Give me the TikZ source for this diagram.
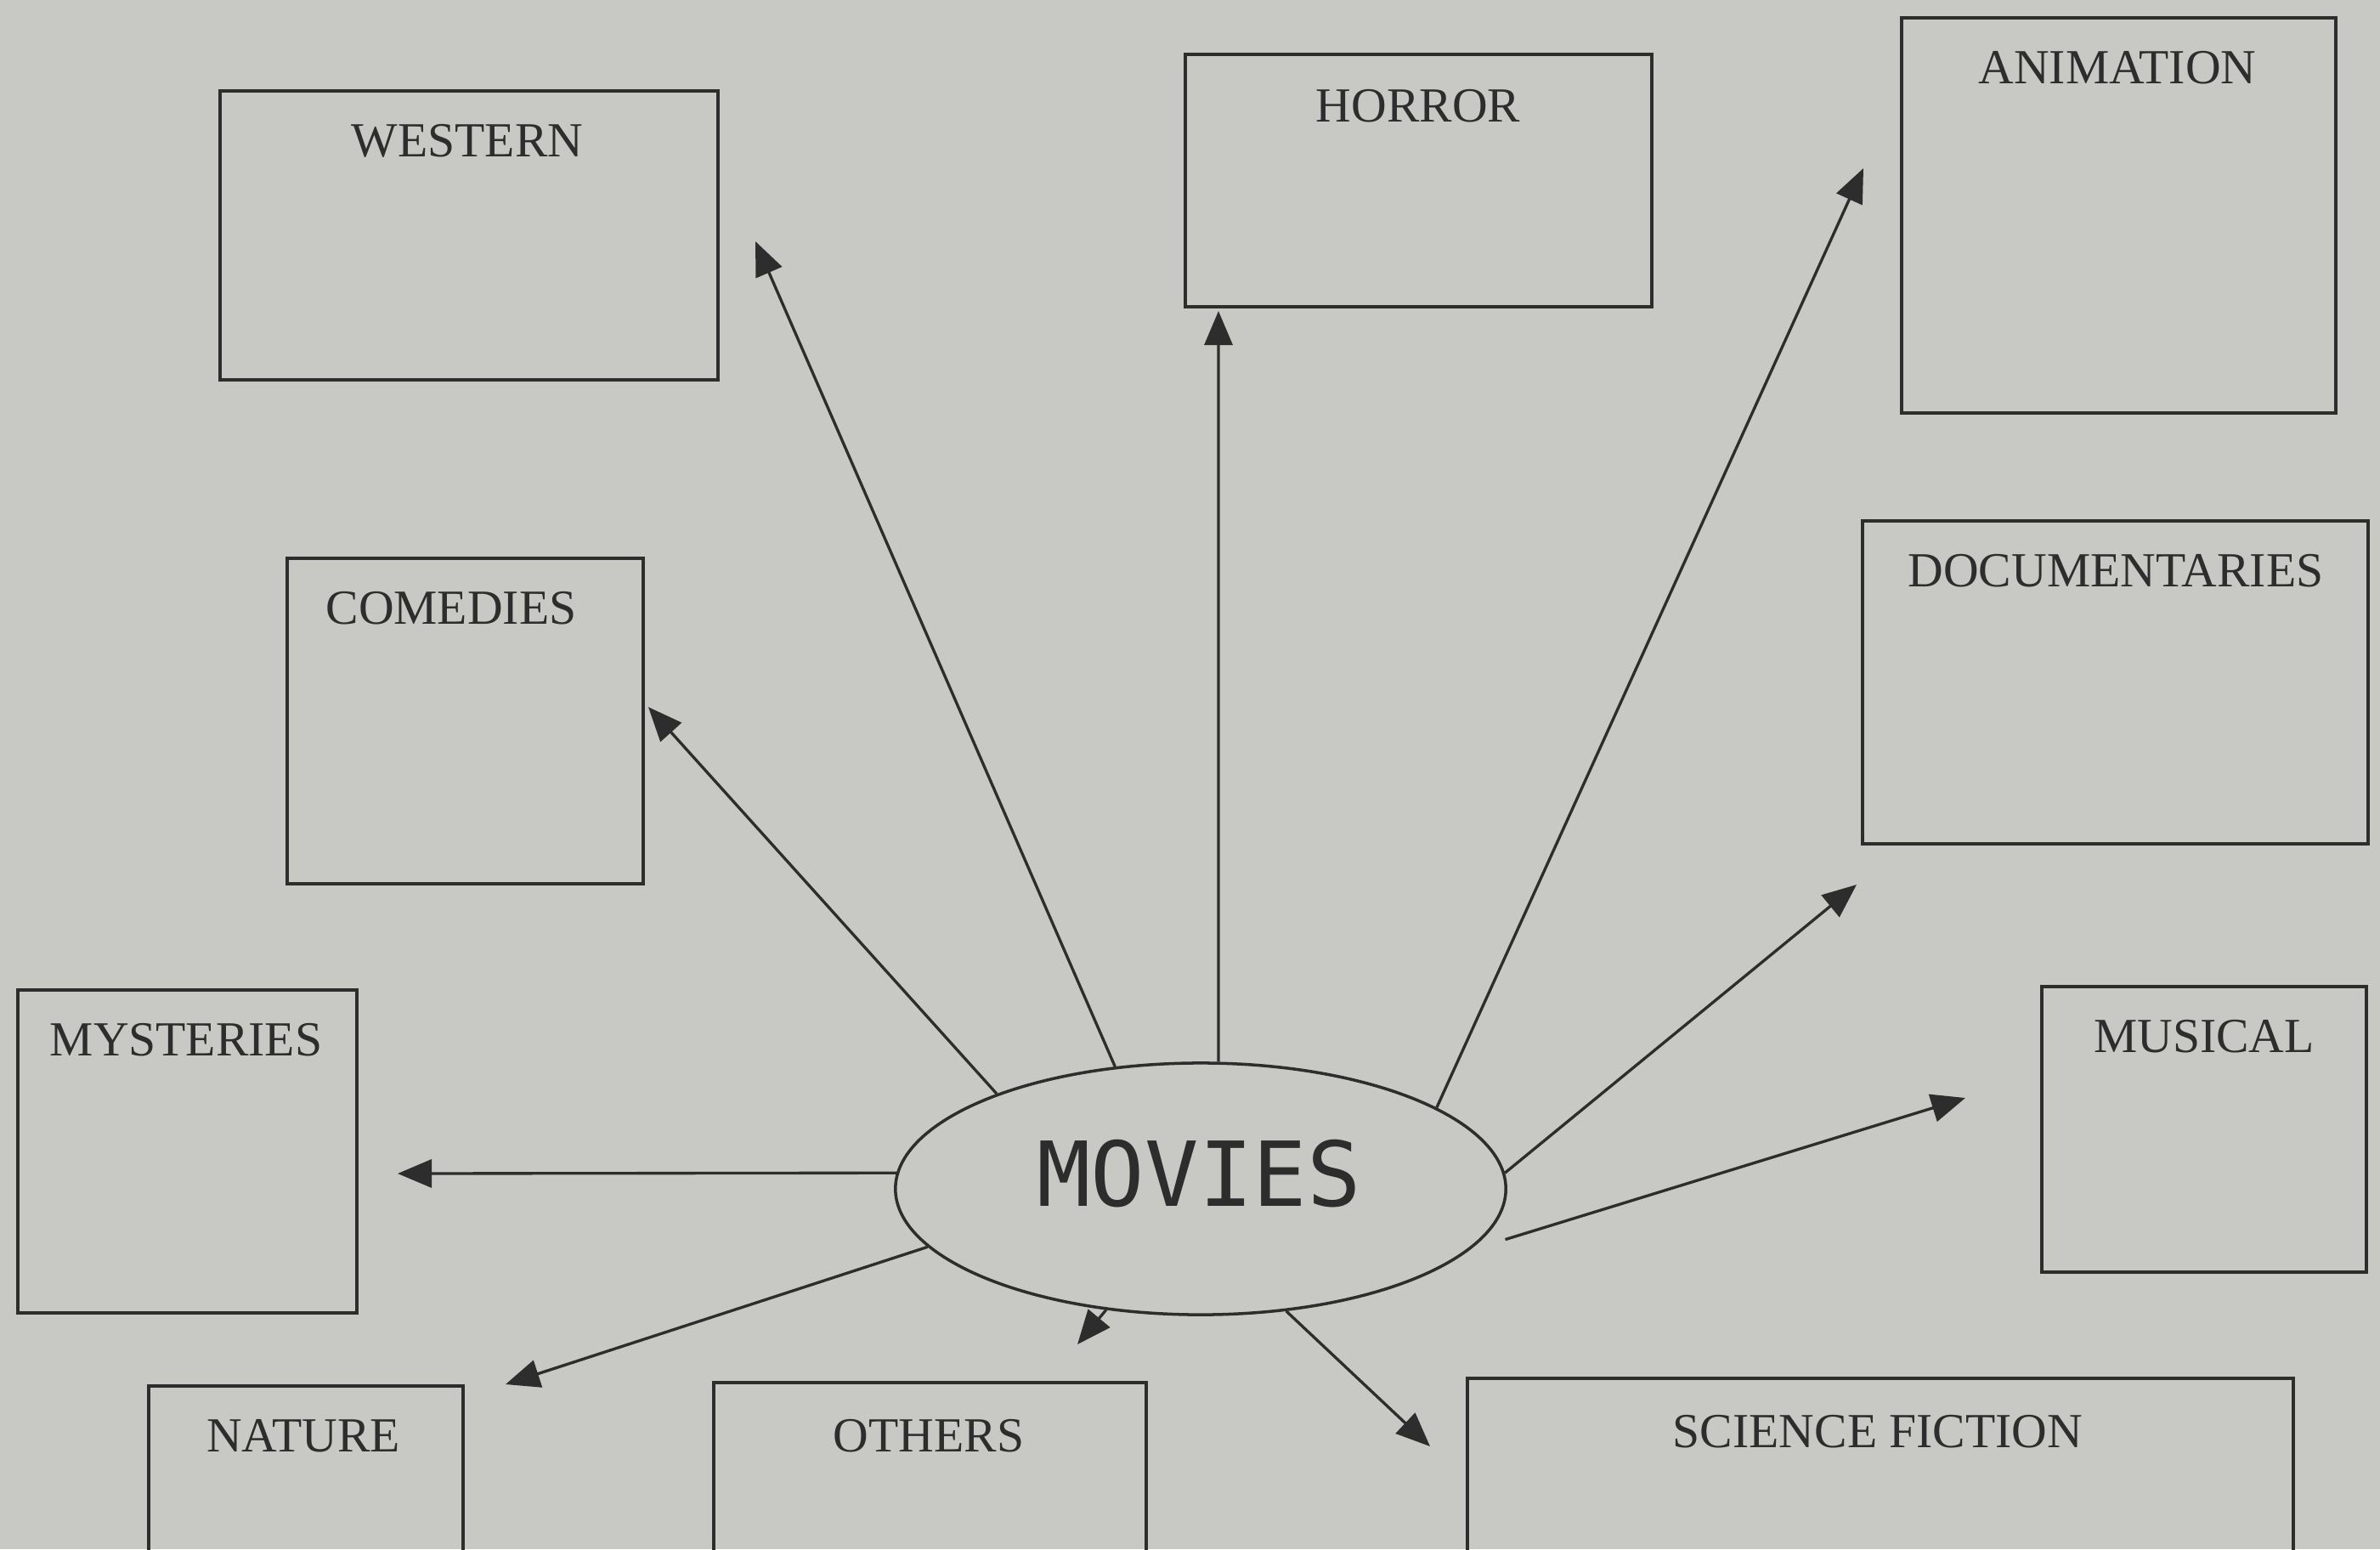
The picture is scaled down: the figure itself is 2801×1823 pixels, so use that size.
\documentclass[tikz,border=0pt]{standalone}
\usepackage{fontspec}
\setmainfont{Liberation Serif}
\newfontfamily\moviesfont{DejaVu Sans Mono}
\usetikzlibrary{arrows.meta,shapes.geometric}
\definecolor{bgc}{RGB}{200,201,197}
\definecolor{ink}{RGB}{45,45,45}
\begin{document}
\begin{tikzpicture}[x=0.01cm,y=-0.01cm,
  box/.style={draw=ink, line width=1.1pt, inner sep=0pt, outer sep=0pt, rectangle},
  lbl/.style={text=ink, inner sep=0pt, font=\fontsize{16.4}{19}\selectfont},
  hub/.style={draw=ink, line width=1pt, ellipse, inner sep=0pt, minimum width=7.18cm, minimum height=2.96cm},
  arr/.style={draw=ink, line width=0.95pt, -{Triangle[length=0.4cm,width=0.33cm]}}]
\fill[bgc] (0,0) rectangle (2801,1823);
\useasboundingbox (0,0) rectangle (2801,1823);
\clip (0,0) rectangle (2801,1823);
% boxes
\node[box, minimum width=5.86cm, minimum height=3.40cm] (western) at (552,277) {};
\node[box, minimum width=5.49cm, minimum height=2.97cm] (horror) at (1669.5,212.5) {};
\node[box, minimum width=5.11cm, minimum height=4.65cm] (animation) at (2493.5,253.5) {};
\node[box, minimum width=4.19cm, minimum height=3.83cm] (comedies) at (547.5,848.5) {};
\node[box, minimum width=5.95cm, minimum height=3.80cm] (documentaries) at (2489.5,803) {};
\node[box, minimum width=3.99cm, minimum height=3.80cm] (mysteries) at (220.5,1355) {};
\node[box, minimum width=3.82cm, minimum height=3.36cm] (musical) at (2594,1329) {};
\node[box, minimum width=3.70cm, minimum height=3.40cm] (nature) at (360,1801) {};
\node[box, minimum width=5.09cm, minimum height=3.40cm] (others) at (1094.5,1797) {};
\node[box, minimum width=9.72cm, minimum height=3.40cm] (scifi) at (2213,1792) {};
% labels
\node[lbl] (westernlbl) at (550,166) {WESTERN};
\node[lbl] (horrorlbl) at (1669,125) {HORROR};
\node[lbl] (animationlbl) at (2492,80) {ANIMATION};
\node[lbl] (comedieslbl) at (531,716) {COMEDIES};
\node[lbl] (documentarieslbl) at (2490,672) {DOCUMENTARIES};
\node[lbl] (mysterieslbl) at (219,1224) {MYSTERIES};
\node[lbl] (musicallbl) at (2594,1220) {MUSICAL};
\node[lbl] (naturelbl) at (357,1690) {NATURE};
\node[lbl] (otherslbl) at (1093,1690) {OTHERS};
\node[lbl] (scifilbl) at (2210,1685) {SCIENCE FICTION};
% hub
\node[hub] (movies) at (1413,1399) {};
\node[text=ink, inner sep=0pt, font=\moviesfont\fontsize{30}{34}\selectfont] (movieslbl) at (1411,1381) {MOVIES};
% arrow tips
\coordinate (tWestern) at (889,284);
\coordinate (tHorror) at (1434,366);
\coordinate (tAnimation) at (2193,198);
\coordinate (tComedies) at (763,832);
\coordinate (tDocumentaries) at (2185,1041);
\coordinate (tMysteries) at (468,1381);
\coordinate (tMusical) at (2313,1292);
\coordinate (tNature) at (595,1629);
\coordinate (tOthers) at (1268,1582);
\coordinate (tScifi) at (1683,1702);
% arrows
\draw[arr] (movies.125.6) -- (tWestern);
\draw[arr] (movies.82.4) -- (tHorror);
\draw[arr] (movies.19.5) -- (tAnimation);
\draw[arr] (movies.155) -- (tComedies);
\draw[arr] (movies.3.7) -- (tDocumentaries);
\draw[arr] (movies.177.1) -- (tMysteries);
\draw[arr, shorten <=0.45cm] (movies.-13.6) -- (tMusical);
\draw[arr] (movies.192.1) -- (tNature);
\draw[arr] (movies.232.5) -- (tOthers);
\draw[arr] (movies.305.5) -- (tScifi);
\end{tikzpicture}
\end{document}
